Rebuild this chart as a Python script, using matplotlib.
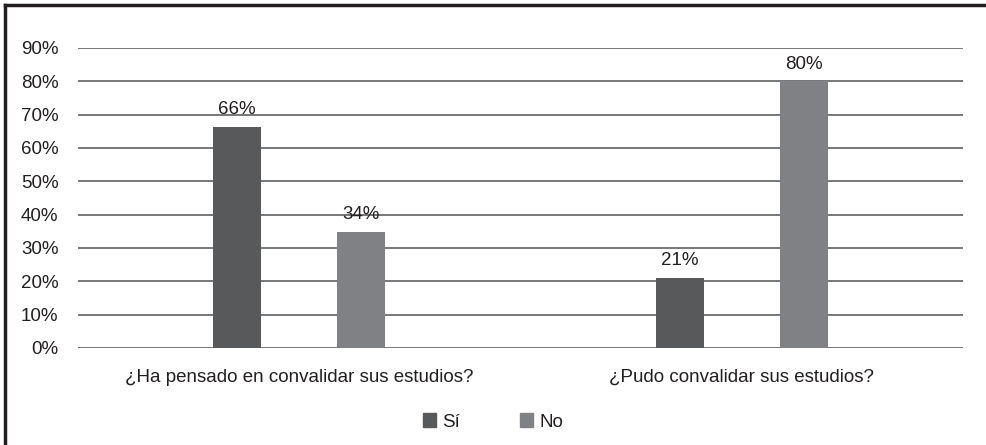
import numpy as np
import matplotlib
matplotlib.use('Agg')
import matplotlib.pyplot as plt
from matplotlib.lines import Line2D
from matplotlib.patches import Patch

# data
categories = ['¿Ha pensado en convalidar sus estudios?', '¿Pudo convalidar sus estudios?']
series = ['Sí', 'No']
si_vals = [0.663, 0.21]
no_vals = [0.348, 0.80]
si_labels = ['66%', '21%']
no_labels = ['34%', '80%']
yticks = [0, 0.1, 0.2, 0.3, 0.4, 0.5, 0.6, 0.7, 0.8, 0.9]

plt.rcParams['font.family'] = ['Liberation Sans', 'DejaVu Sans']
txt = '#231f20'
c_si = '#58595b'
c_no = '#808184'
fs = 13.5

W, H = 986, 445
fig = plt.figure(figsize=(W/100, H/100), dpi=100)
ax = fig.add_axes([78/W, 1-348/H, (963-78)/W, 300/H])

x = np.arange(len(categories))
off = 0.14
bw = 0.108
ax.bar(x - off, si_vals, bw, color=c_si, zorder=3)
ax.bar(x + off, no_vals, bw, color=c_no, zorder=3)

for i in range(len(x)):
    ax.text(x[i] - off, si_vals[i] + 0.026, si_labels[i], ha='center', va='bottom', fontsize=fs, color=txt)
    ax.text(x[i] + off, no_vals[i] + 0.026, no_labels[i], ha='center', va='bottom', fontsize=fs, color=txt)

ax.set_xlim(-0.5, 1.5)
ax.set_ylim(0, 0.9)
ax.set_yticks(yticks)
ax.set_yticklabels(['%d%%' % round(v*100) for v in yticks])
ax.set_xticks(x)
ax.set_xticklabels(categories)
ax.tick_params(axis='both', length=0, labelsize=fs, colors=txt)
ax.tick_params(axis='y', pad=14)
ax.tick_params(axis='x', pad=15)
ax.grid(axis='y', color='#5f6062', lw=1.2, zorder=0)
ax.set_axisbelow(True)
for s in ax.spines.values():
    s.set_visible(False)

handles = [Patch(color=c_si), Patch(color=c_no)]
fig.legend(handles, series, loc='center', bbox_to_anchor=(0.5, 1-422/H), ncol=2,
           frameon=False, fontsize=fs, handlelength=0.7, handleheight=0.7,
           handletextpad=0.35, columnspacing=3.2, labelcolor=txt)

# frame on top and left edges
fig.add_artist(Line2D([5/W, 1], [1-5/H, 1-5/H], color='#231f20', lw=2.5, transform=fig.transFigure))
fig.add_artist(Line2D([5/W, 5/W], [0, 1-5/H], color='#231f20', lw=2.5, transform=fig.transFigure))

fig.savefig('out.png', dpi=100)
